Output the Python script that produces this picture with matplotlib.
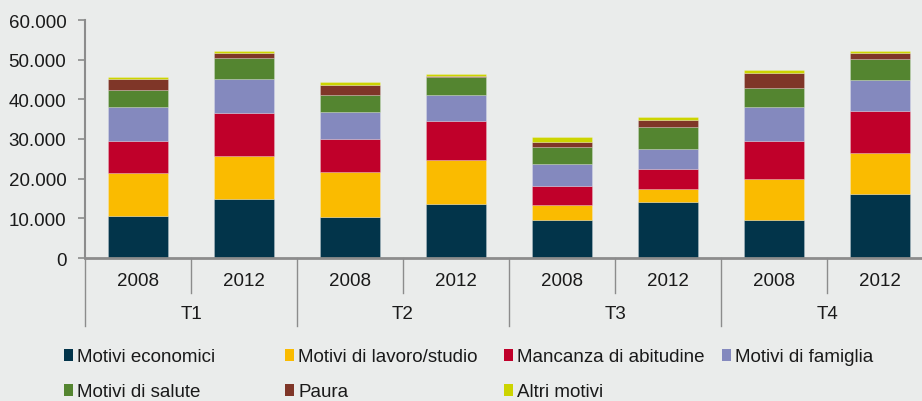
import numpy as np
import matplotlib
matplotlib.use("Agg")
import matplotlib.pyplot as plt
from matplotlib.patches import Patch
from matplotlib.ticker import FuncFormatter

plt.rcParams['font.family'] = ['Liberation Sans', 'DejaVu Sans']

# data
groups = ["T1", "T2", "T3", "T4"]
years = ["2008", "2012"]
series = ["Motivi economici", "Motivi di lavoro/studio", "Mancanza di abitudine",
          "Motivi di famiglia", "Motivi di salute", "Paura", "Altri motivi"]
colors = ["#02344A", "#FABB00", "#C0002A", "#8489BE", "#548530", "#7F3628", "#CCD400"]

# one value per bar: T1-2008, T1-2012, T2-2008, T2-2012, T3-2008, T3-2012, T4-2008, T4-2012
economici = [10500, 14950, 10230, 13510, 9650, 14020, 9650, 16210]
lavoro = [10900, 10840, 11350, 11270, 3710, 3370, 10340, 10160]
abitudine = [8200, 10840, 8420, 9650, 4870, 5040, 9580, 10590]
famiglia = [8400, 8400, 6800, 6660, 5370, 5120, 8390, 7990]
salute = [4400, 5390, 4370, 4440, 4280, 5470, 4890, 5210]
paura = [2700, 1160, 2520, 250, 1440, 1840, 3780, 1420]
altri = [650, 680, 750, 680, 1260, 680, 840, 600]

values = [economici, lavoro, abitudine, famiglia, salute, paura, altri]

bg = "#EAECEB"
grey = "#8C8C8C"
fs = 13.5

fig = plt.figure(figsize=(9.22, 4.02), dpi=100, facecolor=bg)
ax = fig.add_axes([85 / 922, 143 / 402, 848 / 922, 238 / 402], facecolor=bg)

x = np.arange(len(economici))
bottom = np.zeros(len(x))
for vals, col, name in zip(values, colors, series):
    ax.bar(x, vals, width=0.56, bottom=bottom, color=col, label=name,
           edgecolor=(1, 1, 1, 0.25), linewidth=0.6)
    bottom += np.array(vals)

ax.set_xlim(-0.5, len(x) - 0.5)
ax.set_ylim(0, 60000)
ax.set_yticks(np.arange(0, 60001, 10000))
ax.yaxis.set_major_formatter(FuncFormatter(lambda v, p: f"{int(v):,}".replace(",", ".")))
ax.tick_params(axis='y', direction='out', length=5, color=grey, width=1.2,
               labelsize=fs, pad=8.5, labelcolor="#1a1a1a")
ax.set_xticks([])

for s in ["top", "right"]:
    ax.spines[s].set_visible(False)
ax.spines["left"].set_color(grey)
ax.spines["left"].set_linewidth(1.5)
ax.spines["bottom"].set_color(grey)
ax.spines["bottom"].set_linewidth(2)

# two-level category axis
tr = ax.get_xaxis_transform()
for i, yr in enumerate(years * len(groups)):
    ax.text(x[i], -0.095, yr, transform=tr, ha='center', va='center',
            fontsize=fs, color="#1a1a1a")
for g, name in enumerate(groups):
    ax.text(2 * g + 0.5, -0.235, name, transform=tr, ha='center', va='center',
            fontsize=fs, color="#1a1a1a")
    ax.plot([2 * g + 0.5] * 2, [0, -0.145], transform=tr, color=grey,
            lw=1, clip_on=False)
for g in range(len(groups) + 1):
    ax.plot([2 * g - 0.5] * 2, [0, -0.285], transform=tr, color=grey,
            lw=1, clip_on=False)

# legend, placed entry by entry
col_x = [64 / 922, 285 / 922, 504 / 922, 722 / 922]
row_y = [1 - 358 / 402, 1 - 393 / 402]
for k, (name, col) in enumerate(zip(series, colors)):
    r, c = divmod(k, 4)
    leg = fig.legend(handles=[Patch(facecolor=col, edgecolor='none')], labels=[name],
                     loc='center left', bbox_to_anchor=(col_x[c], row_y[r]),
                     frameon=False, fontsize=fs, handlelength=0.5, handleheight=0.55,
                     handletextpad=0.2, borderpad=0, borderaxespad=0)
    for t in leg.get_texts():
        t.set_color("#1a1a1a")

fig.savefig("out.png", dpi=100, facecolor=bg)
